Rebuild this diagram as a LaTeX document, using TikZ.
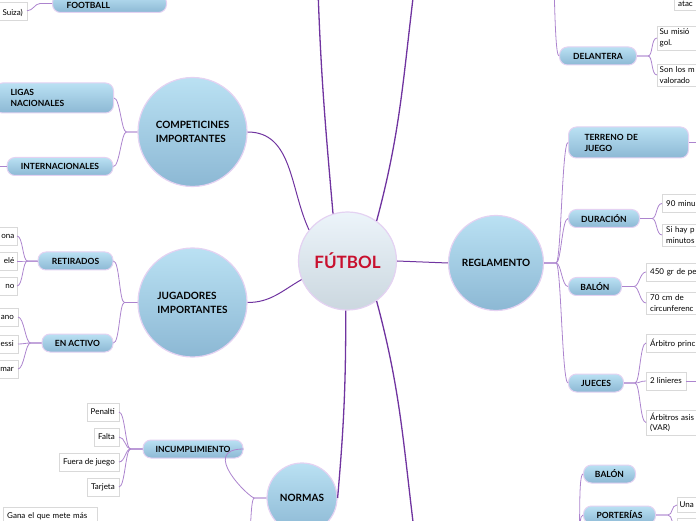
\documentclass[tikz,border=0pt]{standalone}
\usepackage{fontspec}
\setmainfont{Lato}
\usetikzlibrary{shadows}
\definecolor{mypurple}{RGB}{112,52,160}
\definecolor{mylilac}{RGB}{172,132,206}
\definecolor{myedge}{RGB}{228,210,242}
\definecolor{mytop}{RGB}{186,225,243}
\definecolor{mybot}{RGB}{140,184,212}
\definecolor{myred}{RGB}{200,16,46}
\definecolor{mygreytop}{RGB}{236,244,250}
\definecolor{mygreybot}{RGB}{203,215,223}
\tikzset{
    hubnode/.style={circle, draw=myedge, line width=1.2pt, top color=mytop, bottom color=mybot,
      inner sep=0pt, align=left, font=\bfseries\fontsize{10}{14}\selectfont},
    topicnode/.style={rounded corners=8pt, draw=myedge, line width=1pt, top color=mytop, bottom color=mybot,
      minimum height=18pt, inner sep=2pt, align=left, font=\bfseries\fontsize{8.5}{11}\selectfont},
    leafnode/.style={draw=black!15, fill=white, drop shadow={shadow xshift=0.8pt, shadow yshift=-0.8pt, fill=black!35},
      minimum height=18pt, inner xsep=4pt, inner ysep=3pt, font=\fontsize{8}{10.5}\selectfont},
    mainlink/.style={mypurple, line width=1.3pt},
    sublink/.style={mylilac, line width=0.8pt},
}

\begin{document}
\begin{tikzpicture}[x=1pt,y=1pt]
  \useasboundingbox (0,0) rectangle (696,520);
  \clip (0,0) rectangle (696,520);
  % Centre
  \node[circle, draw=myedge, line width=1.2pt, top color=mygreytop, bottom color=mygreybot,
    minimum size=98pt, inner sep=0pt, text=myred, font=\bfseries\fontsize{17}{20}\selectfont]
    (F) at (347.5,259) {FÚTBOL};
  % Main topics
  \node[hubnode, minimum size=109pt] (COMP) at (192.5,388) {COMPETICINES\\IMPORTANTES};
  \node[hubnode, minimum size=109pt] (JUG) at (192.5,217.5) {JUGADORES\\IMPORTANTES};
  \node[hubnode, minimum size=70pt] (NOR) at (302,22) {NORMAS};
  \node[hubnode, minimum size=95pt] (REG) at (496,257) {REGLAMENTO};
  \coordinate (upL) at (318,530);
  \coordinate (upR) at (414,530);
  \coordinate (dnR) at (414,-10);
  \draw[mainlink] (F.107) to[out=95,in=-88] (upL);
  \draw[mainlink] (F.54) to[out=75,in=-97] (upR);
  \draw[mainlink, line width=1pt] (F.141) to[out=115,in=0] (COMP.east);
  \draw[mainlink, line width=1pt] (F.202) to[out=210,in=0] (JUG.east);
  \draw[mainlink, line width=1pt] (F.east) -- (REG.west);
  \draw[mainlink] (F.268) to[out=-90,in=85] (NOR.east);
  \draw[mainlink] (F.-54) to[out=-75,in=97] (dnR);

  % Top left: FOOTBALL
  \node[topicnode, anchor=south west, text width=86pt, inner xsep=14pt] (FOOT) at (52,507) {\mbox{}\\FOOTBALL};
  \node[leafnode, anchor=south east, text width=40pt, align=right] (SUI) at (27,500) {\mbox{}\\Suiza)};
  \draw[sublink] (FOOT.west) -- ++(-12,0) .. controls +(-5,0) and +(6,0) .. (SUI.east);

  % Competiciones
  \node[topicnode, anchor=west, text width=87pt, inner xsep=16pt, minimum height=30pt] (LIG) at (-6,422) {LIGAS\\NACIONALES};
  \node[topicnode, minimum width=106pt] (INT) at (60,353.5) {INTERNACIONALES};
  \foreach \n in {LIG,INT}{
    \draw[sublink] (COMP.west) -- ++(-11,0) .. controls +(-5,0) and +(6,0) .. (\n.east);
  }
  \draw[sublink] (INT.west) -- ++(-12,0);

  % Jugadores
  \node[topicnode, minimum width=75pt] (RET) at (75.5,259) {RETIRADOS};
  \node[topicnode, minimum width=71pt] (ACT) at (77.5,177) {EN ACTIVO};
  \foreach \n in {RET,ACT}{
    \draw[sublink] (JUG.west) -- ++(-13,0) .. controls +(-5,0) and +(6,0) .. (\n.east);
  }
  \foreach \t/\y [count=\i] in {ona/284,elé/259,no/234}{
    \node[leafnode, anchor=east, text width=34pt, inner xsep=2.5pt, align=right] (RL-\i) at (17,\y) {\t};
    \draw[sublink] (RET.west) -- ++(-10,0) .. controls +(-5,0) and +(6,0) .. (RL-\i.east);
  }
  \foreach \t/\y [count=\i] in {ano/203,essi/176,mar/151}{
    \node[leafnode, anchor=east, text width=34pt, align=right] (AL-\i) at (18,\y) {\t};
    \draw[sublink] (ACT.west) -- ++(-11,0) .. controls +(-5,0) and +(6,0) .. (AL-\i.east);
  }

  % Normas
  \node[topicnode, minimum width=100pt] (INC) at (193,71) {INCUMPLIMIENTO};
  \coordinate (NB) at (246,-30);
  \foreach \n in {INC,NB}{
    \draw[sublink] (NOR.west) -- ++(-12,0) .. controls +(-5,0) and +(6,0) .. (\n);
  }
  \foreach \t/\y [count=\i] in {Penalti/108,Falta/83,Fuera de juego/58,Tarjeta/33}{
    \node[leafnode, anchor=east] (NL-\i) at (119,\y) {\t};
    \draw[sublink] (INC.west) -- ++(-12,0) .. controls +(-5,0) and +(6,0) .. (NL-\i.east);
  }
  \node[leafnode, anchor=north west, text width=86pt, align=left, inner ysep=2pt] (GANA) at (3,13) {Gana el que mete más};

  % Reglamento
  \node[topicnode, anchor=west, text width=88pt, inner xsep=16pt, minimum height=31pt] (TER) at (568,377.5) {TERRENO DE\\JUEGO};
  \node[topicnode, anchor=west, minimum width=71pt] (DUR) at (568,301.5) {DURACIÓN};
  \node[topicnode, anchor=west, minimum width=53pt] (BAL) at (568,233.5) {BALÓN};
  \node[topicnode, anchor=west, minimum width=55pt] (JUE) at (568,137) {JUECES};
  \foreach \n in {TER,DUR,BAL,JUE}{
    \draw[sublink] (REG.east) -- ++(12,0) .. controls +(5,0) and +(-6,0) .. (\n.west);
  }
  \draw[sublink] (TER.east) -- ++(12,0);
  \foreach \t/\y [count=\i] in {90 minu/316.5,{Si hay p\\minutos}/285}{
    \node[leafnode, anchor=west, text width=60pt, align=left] (DL-\i) at (662,\y) {\t};
    \draw[sublink] (DUR.east) -- ++(12,0) .. controls +(5,0) and +(-6,0) .. (DL-\i.west);
  }
  \foreach \t/\y [count=\i] in {450 gr de pe/248,{70 cm de\\circunferenc}/217}{
    \node[leafnode, anchor=west, text width=60pt, align=left] (BL-\i) at (646,\y) {\t};
    \draw[sublink] (BAL.east) -- ++(12,0) .. controls +(5,0) and +(-6,0) .. (BL-\i.west);
  }
  \node[leafnode, anchor=west, text width=60pt, align=left] (JL-1) at (646,177) {Árbitro princ};
  \node[leafnode, anchor=west, align=left] (JL-2) at (646,139) {2 linieres};
  \node[leafnode, anchor=west, text width=60pt, align=left] (JL-3) at (646,97.5) {Árbitros asis\\(VAR)};
  \foreach \i in {1,...,3}{
    \draw[sublink] (JUE.east) -- ++(11,0) .. controls +(5,0) and +(-6,0) .. (JL-\i.west);
  }
  \draw[sublink] (JL-2.east) -- ++(12,0);

  % Bottom right
  \node[topicnode, anchor=west, minimum width=52pt] (BAL2) at (583,46) {BALÓN};
  \node[topicnode, anchor=west, minimum width=72pt] (POR) at (583,5) {PORTERÍAS};
  \coordinate (PB) at (569,-40);
  \foreach \n in {BAL2,POR}{
    \draw[sublink] (PB) -- ++(8,0) .. controls +(5,0) and +(-6,0) .. (\n.west);
  }
  \node[leafnode, anchor=west, text width=30pt, inner xsep=2.5pt, align=left, minimum height=15pt] (PL-1) at (677,15) {Una};
  \node[leafnode, anchor=north west, text width=30pt] (PL-2) at (677,2) {};
  \foreach \i in {1,2}{
    \draw[sublink] (POR.east) -- ++(12,0) .. controls +(5,0) and +(-6,0) .. (PL-\i.west);
  }

  % Top right: delantera
  \node[topicnode, anchor=west, minimum width=77pt] (DEL) at (559,464) {DELANTERA};
  \coordinate (DP) at (540,600);
  \draw[sublink] (DP) -- ++(10,0) .. controls +(5,0) and +(-6,0) .. (DEL.west);
  \foreach \t/\y [count=\i] in {{Su misió\\gol.}/482,{Son los m\\valorado}/445}{
    \node[leafnode, anchor=west, text width=60pt, inner xsep=2.5pt, align=left] (EL-\i) at (657,\y) {\t};
    \draw[sublink] (DEL.east) -- ++(11,0) .. controls +(5,0) and +(-6,0) .. (EL-\i.west);
  }
  \node[leafnode, anchor=south west, text width=40pt, align=left] (ATA) at (674,510) {\mbox{}\\atac};
\end{tikzpicture}
\end{document}
